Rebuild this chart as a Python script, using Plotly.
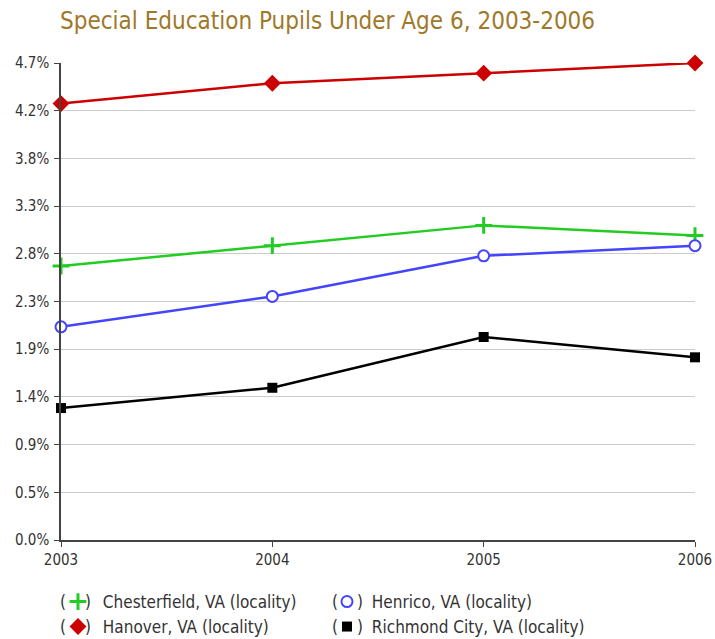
import plotly.graph_objects as go

# Share of pupils under age 6 in special education, by locality (percent)
years = [2003, 2004, 2005, 2006]
chesterfield = [2.7, 2.9, 3.1, 3.0]
henrico = [2.1, 2.4, 2.8, 2.9]
hanover = [4.3, 4.5, 4.6, 4.7]
richmond = [1.3, 1.5, 2.0, 1.8]

y_tick_labels = ["0.0%", "0.5%", "0.9%", "1.4%", "1.9%", "2.3%",
                 "2.8%", "3.3%", "3.8%", "4.2%", "4.7%"]

FONT = "DejaVu Sans Condensed, DejaVu Sans, sans-serif"
TEXT = "#333333"
LEG_SIZE = 17

series = [
    # name, values, line colour, marker settings, legend id
    ("Chesterfield, VA (locality)", chesterfield, "#22cc22",
     dict(symbol="cross-thin", size=12, color="#22cc22",
          line=dict(color="#22cc22", width=3)), "legend"),
    ("Henrico, VA (locality)", henrico, "#4444ff",
     dict(symbol="circle", size=11, color="white",
          line=dict(color="#4444ff", width=2)), "legend"),
    ("Hanover, VA (locality)", hanover, "#cc0000",
     dict(symbol="diamond", size=13, color="#cc0000",
          line=dict(color="#cc0000", width=0)), "legend2"),
    ("Richmond City, VA (locality)", richmond, "#000000",
     dict(symbol="square", size=10, color="#000000",
          line=dict(color="#000000", width=0)), "legend2"),
]

fig = go.Figure()
for name, vals, color, marker, _ in series:
    fig.add_trace(go.Scatter(
        x=years, y=vals, mode="lines+markers", name=name,
        line=dict(color=color, width=2.5), marker=marker,
        cliponaxis=False, showlegend=False,
    ))

# Marker-only legend entries (two rows of two)
for name, vals, color, marker, leg in series:
    fig.add_trace(go.Scatter(
        x=[None], y=[None], mode="markers",
        name="\u00a0" + name, marker=marker, legend=leg,
        showlegend=True,
    ))

ymax = max(max(chesterfield), max(henrico), max(hanover), max(richmond))
tickvals = [ymax * i / 10 for i in range(11)]

# Plot area geometry in pixels
L, R, T, B = 61, 20, 63, 99
W, H = 715, 639
pw, ph = W - L - R, H - T - B

def px_x(px):
    return (px - L) / pw

def px_y(py):
    return (H - B - py) / ph

legend_common = dict(
    orientation="h", xanchor="left", yanchor="middle",
    font=dict(family=FONT, size=LEG_SIZE, color=TEXT),
    entrywidthmode="pixels", entrywidth=224,
    bgcolor="rgba(0,0,0,0)", itemclick=False,
)

fig.update_layout(
    width=W, height=H,
    margin=dict(l=L, r=R, t=T, b=B, autoexpand=False),
    paper_bgcolor="white", plot_bgcolor="white",
    title=dict(text="Special Education Pupils Under Age 6, 2003-2006",
               font=dict(family=FONT, size=24, color="#a0782a"),
               x=60 / W, xanchor="left", y=1 - 21 / H, yanchor="middle"),
    xaxis=dict(range=[years[0], years[-1]], tickvals=years,
               ticktext=[str(y) for y in years],
               showgrid=False, zeroline=False, automargin=False,
               showline=True, linecolor="#444444", linewidth=1.5,
               ticks="outside", ticklen=5, tickcolor="#444444",
               tickfont=dict(family=FONT, size=15, color=TEXT)),
    yaxis=dict(range=[0, ymax], tickvals=tickvals, ticktext=y_tick_labels,
               showgrid=True, gridcolor="#cccccc", gridwidth=1,
               zeroline=False, showline=True, linecolor="#444444",
               linewidth=1.5, ticks="outside", ticklen=5,
               tickcolor="#444444", automargin=False,
               ticklabelstandoff=2,
               tickfont=dict(family=FONT, size=15, color=TEXT)),
    legend=dict(x=px_x(58), y=px_y(602), **legend_common),
    legend2=dict(x=px_x(58), y=px_y(627), **legend_common),
)

# Parentheses around the legend symbols
for cx in (75, 347):
    for cy in (602, 627):
        for dx, ch in ((-12, "("), (13, ")")):
            fig.add_annotation(
                x=px_x(cx + dx), y=px_y(cy), xref="paper", yref="paper",
                text=ch, showarrow=False, xanchor="center", yanchor="middle",
                font=dict(family=FONT, size=LEG_SIZE, color=TEXT),
            )

fig.write_html("out.html")
